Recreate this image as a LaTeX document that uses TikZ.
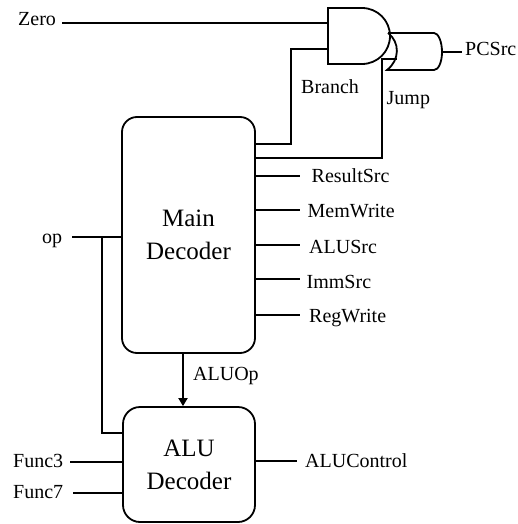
\documentclass[tikz,border=0pt]{standalone}
\usepackage{fontspec}
\setmainfont{Liberation Serif}
\usetikzlibrary{arrows.meta}
\begin{document}
\begin{tikzpicture}[x=1pt,y=-1pt,
  wire/.style={line width=1.8pt},
  box/.style={draw, line width=1.8pt, align=center, inner sep=0pt,
    font=\fontsize{25}{33}\selectfont},
  lbl/.style={font=\fontsize{20}{24}\selectfont, inner sep=0pt, anchor=base west}]
\useasboundingbox (0,0) rectangle (517,524);

% decoders
\node[box, rounded corners=15pt, minimum width=133pt, minimum height=236pt] (main) at (188.5,235) {Main\\Decoder};
\node[box, rounded corners=17pt, minimum width=132pt, minimum height=115pt] (alu) at (189,464.5) {ALU\\Decoder};

% labels
\node[lbl] (zero) at (18,26) {Zero};
\node[lbl] (op) at (42,243) {op};
\node[lbl] (branch) at (301,94) {Branch};
\node[lbl] (jump) at (386.5,105) {Jump};
\node[lbl] (pcsrc) at (465,56) {PCSrc};
\node[lbl] (rs) at (311.5,182) {ResultSrc};
\node[lbl] (mw) at (307.5,217) {MemWrite};
\node[lbl] (as) at (309,253) {ALUSrc};
\node[lbl] (is) at (306.5,288) {ImmSrc};
\node[lbl] (rw) at (309,322) {RegWrite};
\node[lbl] (aluop) at (193,380) {ALUOp};
\node[lbl] (f3) at (13,467) {Func3};
\node[lbl] (f7) at (13,498) {Func7};
\node[lbl] (ac) at (305,467) {ALUControl};

% gates
\draw[wire] (328,8) -- (362,8) .. controls (377.5,8) and (390,20.5) .. (390,36)
  .. controls (390,51.5) and (377.5,64) .. (362,64) -- (328,64) -- cycle;
\draw[wire] (388,33) -- (434,33) .. controls (438.4,33) and (442,41.8) .. (442,52)
  .. controls (442,62.2) and (438.4,70) .. (434,70) -- (387,70)
  .. controls (400,60) and (400,42) .. (388,33);
\coordinate (andA) at (328,23);
\coordinate (andB) at (328,49);
\coordinate (orJ) at (396.5,59);
\coordinate (orOut) at (442,52);
\coordinate (pcE) at (462,52);

% connectors
\draw[wire] (62,23) -- (andA);
\draw[wire] (main.east |- 0,144) -- (291,144) -- (291,49) -- (andB);
\draw[wire] (main.east |- 0,158) -- (382,158) -- (382,59) -- (orJ);
\draw[wire] (orOut) -- (pcE);

\coordinate (rsE) at (300,176);
\coordinate (mwE) at (300,210);
\coordinate (asE) at (300,245);
\coordinate (isE) at (300,279);
\coordinate (rwE) at (300,315);
\foreach \c in {rsE,mwE,asE,isE,rwE} \draw[wire] (main.east |- \c) -- (\c);

\coordinate (opS) at (72,237);
\coordinate (opJ) at (102,237);
\draw[wire] (opS) -- (main.west |- opS);
\draw[wire] (opJ) -- (102,433) -- (alu.west |- 0,433);

\coordinate (aop) at (183,380);
\draw[wire, -{Triangle[length=8pt,width=9pt]}] (main.south -| aop) -- (alu.north -| aop);

\coordinate (f3S) at (70,462);
\coordinate (f7S) at (73,493);
\draw[wire] (f3S) -- (alu.west |- f3S);
\draw[wire] (f7S) -- (alu.west |- f7S);
\coordinate (acE) at (297,461);
\draw[wire] (alu.east |- acE) -- (acE);
\end{tikzpicture}
\end{document}
